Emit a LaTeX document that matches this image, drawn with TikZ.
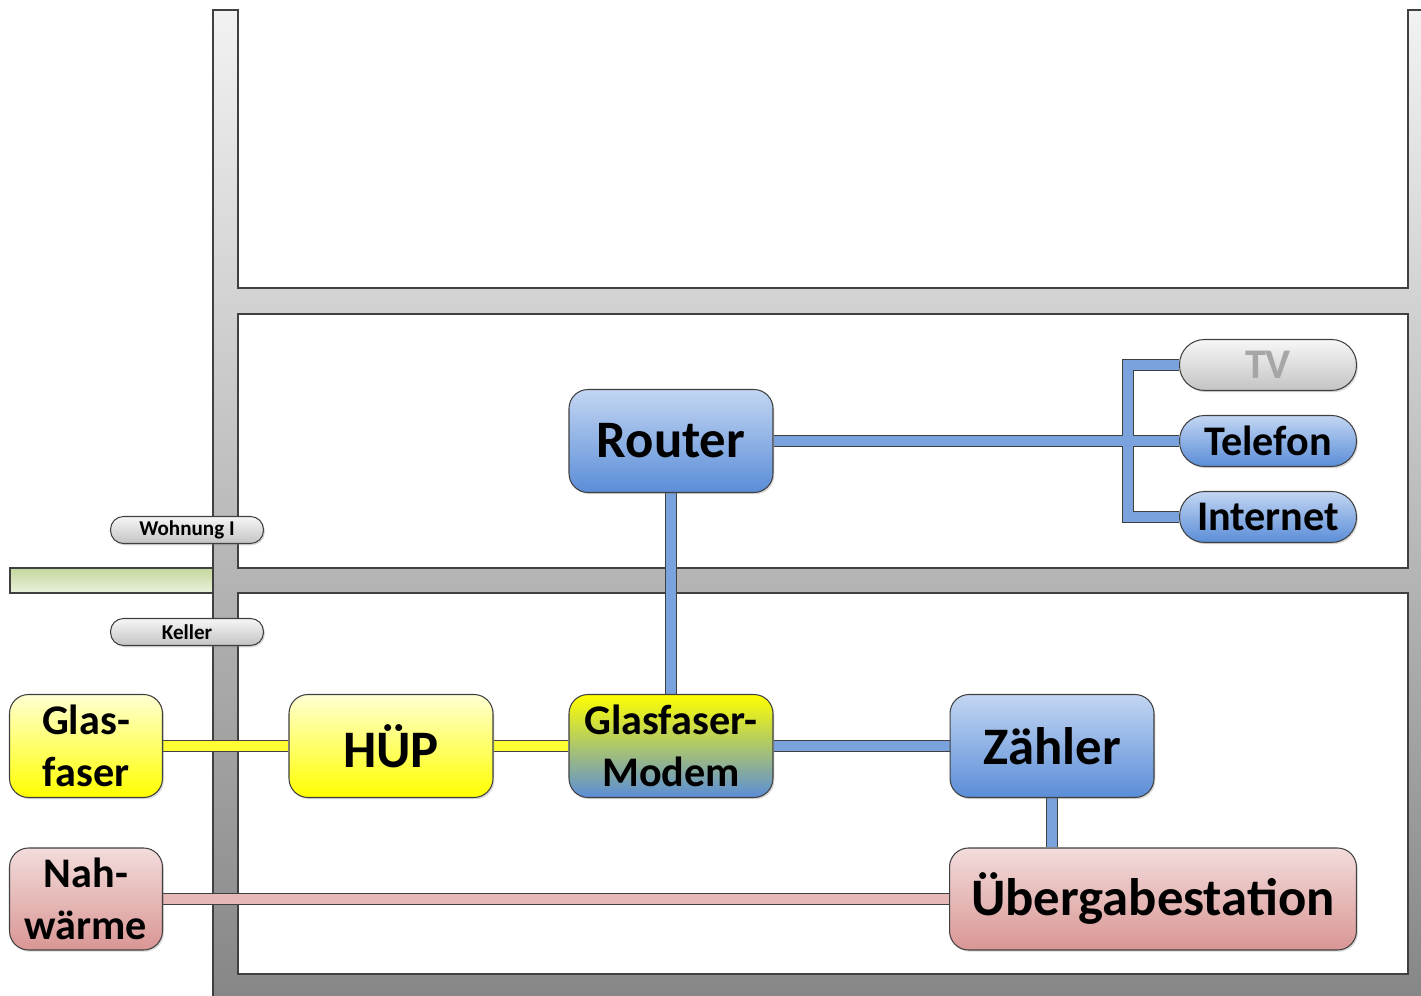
\documentclass[tikz,border=0pt]{standalone}
\usepackage{fontspec}
\setmainfont{Carlito}
\usetikzlibrary{shadows,backgrounds}

\definecolor{rim}{HTML}{404040}
\definecolor{wallhi}{HTML}{F2F2F2}
\definecolor{walllo}{HTML}{868686}
\definecolor{bluehi}{HTML}{C3D6F2}
\definecolor{bluelo}{HTML}{5A8DD8}
\definecolor{yellowhi}{HTML}{FFFFD2}
\definecolor{yellowlo}{HTML}{FFFF00}
\definecolor{redhi}{HTML}{F2DCDB}
\definecolor{redlo}{HTML}{D99694}
\definecolor{grayhi}{HTML}{F6F6F6}
\definecolor{graylo}{HTML}{C4C4C4}
\definecolor{greenhi}{HTML}{C4D79B}
\definecolor{greenlo}{HTML}{EBF1DE}
\definecolor{tvgray}{HTML}{A6A6A6}
\definecolor{cableblue}{HTML}{7AA3DE}
\definecolor{cableyellow}{HTML}{FFFF33}
\definecolor{cablered}{HTML}{E6B9B8}

\begin{document}
\begin{tikzpicture}[x=0.02cm,y=-0.02cm,
  box/.style={draw=rim,line width=0.6pt,rounded corners=0.38cm,inner sep=0pt,align=center,
    minimum width=4.08cm,minimum height=2.06cm,font=\fontsize{30}{36}\selectfont\bfseries,
    drop shadow={shadow xshift=0.8pt,shadow yshift=-1pt,opacity=0.3}},
  two line/.style={font=\fontsize{24}{29.5}\selectfont\bfseries},
  blue box/.style={top color=bluehi,bottom color=bluelo},
  yellow box/.style={top color=yellowhi,bottom color=yellowlo},
  red box/.style={top color=redhi,bottom color=redlo},
  gray box/.style={top color=grayhi,bottom color=graylo},
  mix box/.style={top color=yellowlo,bottom color=bluelo},
  pill/.style={box,rounded corners=0.5cm,minimum width=3.54cm,minimum height=1.02cm,
    font=\fontsize{24}{29}\selectfont\bfseries},
  tag/.style={box,gray box,rounded corners=0.26cm,minimum width=3.06cm,minimum height=0.54cm,
    font=\fontsize{12}{14}\selectfont\bfseries},
  wall/.style={draw=rim,line width=0.8pt},
  cable out/.style={line width=7pt,draw=rim},
  blue cable/.style={line width=5.2pt,draw=cableblue},
  yellow cable/.style={line width=5.2pt,draw=cableyellow},
  red cable/.style={line width=5.6pt,draw=cablered}]

  \useasboundingbox (0,0) rectangle (1421,996);

  % house
  \begin{scope}[on background layer]
    \draw[wall,top color=wallhi,bottom color=walllo] (213,10) -- (238,10) -- (238,288)
      -- (1408,288) -- (1408,10) -- (1424,10) -- (1424,999) -- (213,999) -- cycle;
    \draw[wall,fill=white] (238,314) rectangle (1408,568);
    \draw[wall,fill=white] (238,593) rectangle (1408,974);
    \draw[wall,top color=greenhi,bottom color=greenlo] (10,568) rectangle (213,593);
  \end{scope}

  \node[box,blue box] (router) at (671,441) {Router};
  \node[box,mix box,two line] (modem) at (671,746) {Glasfaser-\\Modem};
  \node[box,yellow box] (huep) at (391,746) {HÜP};
  \node[box,yellow box,two line,minimum width=3.06cm] (glas) at (86,746) {Glas-\\faser};
  \node[box,blue box] (zaehler) at (1052,746) {Zähler};
  \node[box,red box,two line,minimum width=3.06cm,minimum height=2.04cm] (nah) at (86,899) {Nah-\\wärme};
  \node[box,red box,minimum width=8.14cm,minimum height=2.04cm] (station) at (1153,899) {Übergabestation};

  \node[pill,gray box,text=tvgray] (tv) at (1268,365) {TV};
  \node[pill,blue box] (tel) at (1268,441) {Telefon};
  \node[pill,blue box] (inet) at (1268,517) {Internet};

  \node[tag] (wohnung) at (187,530) {Wohnung I};
  \node[tag] (keller) at (187,632) {Keller};

  \coordinate (fork) at (1128,441);

  % cables
  \begin{scope}[on background layer]
    \foreach \s in {cable out,blue cable}{
      \draw[\s] (router) -- (tel);
      \draw[\s] (tv.west) -| (fork) |- (inet.west);
      \draw[\s] (router) -- (modem);
      \draw[\s] (modem) -- (zaehler);
      \draw[\s] (zaehler) -- (zaehler |- station.north);
    }
    \foreach \s in {cable out,yellow cable}{
      \draw[\s] (glas) -- (huep);
      \draw[\s] (huep) -- (modem);
    }
    \foreach \s in {cable out,red cable}
      \draw[\s] (nah) -- (station);
  \end{scope}
\end{tikzpicture}
\end{document}
